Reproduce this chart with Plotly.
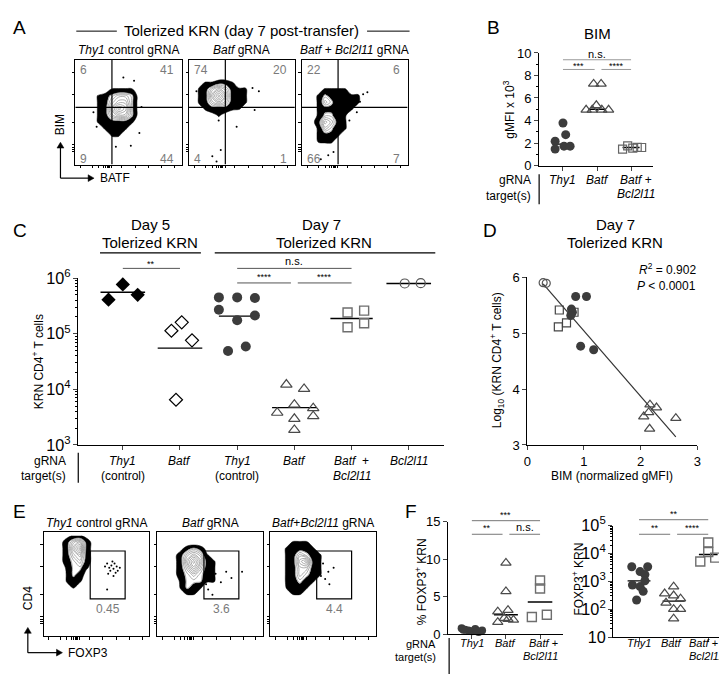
import numpy as np
import plotly.graph_objects as go

W, H = 727, 675
FONT = "Liberation Sans, Arial, sans-serif"

# ---------------- DATA ----------------
# Panel A: flow density grids (16x16, rows listed top -> bottom)
A1_grid = [
    "0000000000000000", "0000000000000000", "0000000000000000", "0000000000000000",
    "0000022220000000", "0012345541000000", "0012356641000000", "0012368741000000",
    "0012356641000000", "0012333321000000", "0001222210000000", "0000122100000000",
    "0000011000000000", "0000000000000000", "0000000000000000", "0000000000000000"]
A2_grid = [
    "0000000000000000", "0000000000000000", "0000000000000000", "0122332110000000",
    "0235653221000000", "0236863221000000", "0235653221000000", "0123332210000000",
    "0011211000000000", "0000100000000000", "0000000000000000", "0000000000000000",
    "0000000000000000", "0000000000000000", "0000000000000000", "0000000000000000"]
A3_grid = [
    "0000000000000000", "0000000000000000", "0000000000000000", "0000000000000000",
    "0012222110000000", "0124322221000000", "0125422221000000", "0123322210000000",
    "0124422100000000", "0136532100000000", "0125422100000000", "0123321000000000",
    "0022210000000000", "0001100000000000", "0000000000000000", "0000000000000000"]
A_dots = [
    [(0.45, 0.83), (0.55, 0.80), (0.17, 0.50), (0.20, 0.36), (0.60, 0.30), (0.52, 0.18), (0.38, 0.17), (0.62, 0.55)],
    [(0.66, 0.70), (0.60, 0.73), (0.28, 0.42), (0.45, 0.36), (0.30, 0.14), (0.22, 0.08), (0.26, 0.03), (0.62, 0.52), (0.07, 0.70)],
    [(0.58, 0.67), (0.62, 0.69), (0.55, 0.60), (0.52, 0.50), (0.45, 0.42), (0.30, 0.12), (0.18, 0.05), (0.25, 0.09), (0.40, 0.47)]]
A_quadrants = [["6", "41", "9", "44"], ["74", "20", "4", "1"], ["22", "6", "66", "7"]]
A_titles = ["<i>Thy1</i> control gRNA", "<i>Batf</i> gRNA", "<i>Batf</i> + <i>Bcl2l11</i> gRNA"]

# Panel E flow grids
E1_grid = [
    "0001221000000000", "0013563100000000", "0013683100000000", "0013563100000000",
    "0013453100000000", "0012442100000000", "0002431000000000", "0002321000000000",
    "0001210000000000", "0000000000000000", "0000000000000000", "0000000000000000",
    "0000000000000000", "0000000000000000", "0000000000000000", "0000000000000000"]
E2_grid = [
    "0000000000000000", "0000000000000000", "0001343100000000", "0013565210000000",
    "0013686321000000", "0013575321000000", "0013454321000000", "0012444221000000",
    "0002432110000000", "0001221000000000", "0000000000000000", "0000000000000000",
    "0000000000000000", "0000000000000000", "0000000000000000", "0000000000000000"]
E3_grid = [
    "0000000000000000", "0012221000000000", "0123332100000000", "0123543210000000",
    "0123673210000000", "0123553210000000", "0123543210000000", "0123432100000000",
    "0023321000000000", "0012210000000000", "0000000000000000", "0000000000000000",
    "0000000000000000", "0000000000000000", "0000000000000000", "0000000000000000"]
E_dots = [
    [(0.60, 0.70), (0.62, 0.66), (0.64, 0.68), (0.66, 0.65), (0.63, 0.63), (0.67, 0.70), (0.69, 0.67),
     (0.65, 0.72), (0.70, 0.63), (0.58, 0.67), (0.61, 0.60), (0.68, 0.61), (0.72, 0.66), (0.66, 0.58), (0.60, 0.45)],
    [(0.50, 0.55), (0.55, 0.60), (0.60, 0.52), (0.70, 0.56), (0.48, 0.45), (0.52, 0.40), (0.65, 0.62), (0.46, 0.50), (0.80, 0.62)],
    [(0.50, 0.70), (0.55, 0.62), (0.52, 0.55), (0.48, 0.58), (0.60, 0.66), (0.46, 0.66), (0.56, 0.50)]]
E_titles = ["<i>Thy1</i> control gRNA", "<i>Batf</i> gRNA", "<i>Batf</i>+<i>Bcl2l11</i> gRNA"]
E_gate_pct = ["0.45", "3.6", "4.4"]

# Panel B: BIM gMFI x 10^3
b_thy1 = [3.78, 2.74, 2.16, 1.47, 1.72, 1.72]
b_thy1_jit = [0.0, 0.08, -0.23, -0.23, 0.03, 0.21]
b_batf = [7.25, 7.25, 5.35, 4.95, 4.95, 4.95, 4.95]
b_batf_jit = [-0.1, 0.12, -0.02, -0.32, -0.14, 0.14, 0.34]
b_combo = [1.45, 1.75, 1.55, 1.62, 1.6]
b_combo_jit = [-0.25, -0.1, 0.05, 0.18, 0.31]
b_centers = [1.9, 5.0, 1.6]

# Panel C: KRN CD4+ T cells
c_day5_thy1 = [7.7e5, 4.1e5, 5.0e5]
c_day5_thy1_jit = [0.0, -0.25, 0.26]
c_day5_batf = [1.6e5, 1.13e5, 7.6e4, 6.5e3]
c_day5_batf_jit = [0.03, -0.15, 0.21, -0.07]
c_day7_thy1 = [4.5e5, 4.5e5, 4.4e5, 2.7e5, 2.12e5, 1.74e5, 4.9e4, 5.9e4]
c_day7_thy1_jit = [-0.32, 0.0, 0.31, -0.32, 0.31, 0.0, -0.16, 0.15]
c_day7_batf = [1.22e4, 1.02e4, 5.3e3, 4.6e3, 3.8e3, 3.3e3, 2.95e3, 1.87e3]
c_day7_batf_jit = [-0.14, 0.17, 0.0, 0.33, -0.30, 0.33, 0.0, 0.0]
c_day7_combo = [2.4e5, 2.6e5, 1.31e5, 1.54e5]
c_day7_combo_jit = [-0.07, 0.22, -0.07, 0.22]
c_day7_bcl = [8.0e5, 8.1e5]
c_day7_bcl_jit = [-0.07, 0.21]
c_centers = [5.55e5, 5.5e4, 2.07e5, 4.7e3, 1.88e5, 8.0e5]
c_row1 = ["<i>Thy1</i>", "<i>Batf</i>", "<i>Thy1</i>", "<i>Batf</i>", "<i>Batf</i>  +", "<i>Bcl2l11</i>"]
c_row2 = ["(control)", "", "(control)", "", "<i>Bcl2l11</i>", ""]

# Panel D: BIM (normalized gMFI) vs log10 cells
d_bcl_x = [0.28, 0.335]
d_bcl_y = [5.90, 5.89]
d_thy1_x = [0.854, 1.044, 0.779, 0.796, 0.767, 0.941, 1.171]
d_thy1_y = [5.654, 5.654, 5.429, 5.372, 5.314, 4.766, 4.702]
d_combo_x = [0.565, 0.825, 0.692, 0.548]
d_combo_y = [5.412, 5.372, 5.181, 5.112]
d_batf_x = [2.164, 2.279, 2.141, 2.054, 2.62, 2.158]
d_batf_y = [3.721, 3.669, 3.583, 3.508, 3.479, 3.289]

# Panel F left: % FOXP3+ KRN
fl_thy1 = [0.8, 0.6, 0.5, 0.4, 0.7, 0.3, 0.5, 0.6, 0.4]
fl_thy1_jit = [-0.3, -0.2, -0.1, 0.0, 0.1, 0.2, 0.3, -0.25, 0.15]
fl_batf = [9.5, 5.7, 3.0, 3.2, 1.6, 2.15, 2.0, 1.9]
fl_batf_jit = [0.0, 0.0, -0.24, 0.06, -0.24, -0.05, 0.06, 0.22]
fl_combo = [7.15, 6.1, 2.3, 2.6]
fl_combo_jit = [0.0, 0.0, -0.24, 0.2]
fl_centers = [0.5, 2.6, 4.3]

# Panel F right: FOXP3+ KRN counts
fr_thy1 = [3340, 3340, 2240, 1740, 741, 646, 1047, 437, 214]
fr_thy1_jit = [-0.21, 0.25, 0.03, 0.17, -0.19, 0.03, 0.17, 0.12, -0.07]
fr_batf = [646, 363, 309, 240, 170, 100, 100, 46]
fr_batf_jit = [0.0, -0.26, 0.0, 0.2, -0.22, 0.0, 0.2, 0.0]
fr_combo = [24500, 11200, 5130, 7080]
fr_combo_jit = [0.0, 0.0, -0.23, 0.2]
fr_centers = [1040, 195, 9100]
f_row1 = ["<i>Thy1</i>", "<i>Batf</i>", "<i>Batf</i> +"]
f_row2 = ["", "", "<i>Bcl2l11</i>"]

# ---------------- HELPERS ----------------
def PX(x):
    return x / W


def PY(y):
    return 1 - y / H


fig = go.Figure()
annotations = []
shapes = []
layout = dict(width=W, height=H, margin=dict(l=0, r=0, t=0, b=0), paper_bgcolor="white",
              plot_bgcolor="white", showlegend=False, font=dict(family=FONT, size=12, color="black"))


def axname(i):
    return ("xaxis", "yaxis") if i == 1 else (f"xaxis{i}", f"yaxis{i}")


def axref(i):
    return ("x", "y") if i == 1 else (f"x{i}", f"y{i}")


def txt(t, x, y, size=12, color="black", xanchor="center", angle=0, xref="paper", yanchor="middle"):
    xx = PX(x) if xref == "paper" else x
    annotations.append(dict(text=t, x=xx, y=PY(y), xref=xref, yref="paper", showarrow=False,
                            font=dict(family=FONT, size=size, color=color), xanchor=xanchor,
                            yanchor=yanchor, textangle=angle))


def pline(x0, y0, x1, y1, color="black", width=1.0):
    shapes.append(dict(type="line", xref="paper", yref="paper", x0=PX(x0), y0=PY(y0), x1=PX(x1), y1=PY(y1),
                       line=dict(color=color, width=width)))


def arrow_up(x, ytail, yhead):
    pline(x, ytail, x, yhead + 4, width=1.2)
    path = f"M {PX(x-3.5)},{PY(yhead+6)} L {PX(x)},{PY(yhead)} L {PX(x+3.5)},{PY(yhead+6)} Z"
    shapes.append(dict(type="path", xref="paper", yref="paper", path=path, fillcolor="black",
                       line=dict(color="black", width=0.5)))


def arrow_right(xtail, xhead, y):
    pline(xtail, y, xhead - 4, y, width=1.2)
    path = f"M {PX(xhead-6)},{PY(y-3.5)} L {PX(xhead)},{PY(y)} L {PX(xhead-6)},{PY(y+3.5)} Z"
    shapes.append(dict(type="path", xref="paper", yref="paper", path=path, fillcolor="black",
                       line=dict(color="black", width=0.5)))


def flow_axes(i, x0, x1, ytop, ybot):
    xn, yn = axname(i)
    xr, yr = axref(i)
    common = dict(range=[0, 1], showline=True, mirror=True, linecolor="black", linewidth=1,
                  ticks="outside", ticklen=2.5, tickwidth=1, tickcolor="black", showticklabels=False,
                  showgrid=False, zeroline=False, fixedrange=True)
    layout[xn] = dict(domain=[PX(x0), PX(x1)], anchor=yr,
                      tickvals=[0.05, 0.16, 0.22, 0.26, 0.28, 0.30, 0.31, 0.32, 0.34, 0.43, 0.56, 0.69, 0.81, 0.93], **common)
    layout[yn] = dict(domain=[PY(ybot), PY(ytop)], anchor=xr,
                      tickvals=[0.12, 0.14, 0.16, 0.19, 0.40, 0.67, 0.88], **common)


def flow(i, grid, dots):
    xr, yr = axref(i)
    n = len(grid)
    z = [[int(c) for c in row] for row in reversed(grid)]
    xs = [(j + 0.5) / n for j in range(len(grid[0]))]
    ys = [(k + 0.5) / n for k in range(n)]
    # constraint contours shade the region that violates the kept condition
    fig.add_trace(go.Contour(x=xs, y=ys, z=z, xaxis=xr, yaxis=yr, showscale=False, hoverinfo="skip",
                             contours=dict(type="constraint", operation="<", value=1.8),
                             fillcolor="black", line=dict(color="black", width=0.5, smoothing=1.1)))
    fig.add_trace(go.Contour(x=xs, y=ys, z=z, xaxis=xr, yaxis=yr, showscale=False, hoverinfo="skip",
                             contours=dict(type="constraint", operation="<", value=3.6),
                             fillcolor="white", line=dict(color="white", width=0.1, smoothing=1.1)))
    fig.add_trace(go.Contour(x=xs, y=ys, z=z, xaxis=xr, yaxis=yr, showscale=False, hoverinfo="skip",
                             autocontour=False,
                             contours=dict(coloring="none", start=3.7, end=9, size=0.5),
                             line=dict(color="#8a8a8a", width=0.7, smoothing=1.1)))
    fig.add_trace(go.Scatter(x=[d[0] for d in dots], y=[d[1] for d in dots], xaxis=xr, yaxis=yr,
                             mode="markers", marker=dict(color="black", size=2), hoverinfo="skip"))


def mk(symbol, color, size, lw=1.2):
    if symbol.endswith("-open"):
        return dict(symbol=symbol, size=size, color=color, line=dict(color=color, width=lw))
    return dict(symbol=symbol, size=size, color=color, line=dict(width=0))


def dots(i, cat, vals, jit, symbol, color, size, lw=1.2):
    xr, yr = axref(i)
    fig.add_trace(go.Scatter(x=[cat + j for j in jit], y=vals, xaxis=xr, yaxis=yr, mode="markers",
                             marker=mk(symbol, color, size, lw), hoverinfo="skip", cliponaxis=False))


def centers(i, vals, hws):
    xr, yr = axref(i)
    xx, yy = [], []
    for k, (v, hw) in enumerate(zip(vals, hws)):
        xx += [k + 1 - hw, k + 1 + hw, None]
        yy += [v, v, None]
    fig.add_trace(go.Scatter(x=xx, y=yy, xaxis=xr, yaxis=yr, mode="lines",
                             line=dict(color="black", width=1.4), hoverinfo="skip"))


def sig(i, c0, c1, ybar, label, ylab, size, color="#777777"):
    xr, _ = axref(i)
    shapes.append(dict(type="line", xref=xr, yref="paper", x0=c0, x1=c1, y0=PY(ybar), y1=PY(ybar),
                       line=dict(color=color, width=1)))
    txt(label, (c0 + c1) / 2, ylab, size=size, xref=xr)


# ---------------- PANEL A ----------------
txt("A", 8, 9, size=19)
txt("Tolerized KRN (day 7 post-transfer)", 232, 12, size=15)
pline(65, 12.5, 106, 12.5)
pline(359, 12.5, 402, 12.5)
A_boxes = [(64, 172), (179, 286), (293, 400)]
A_grids = [A1_grid, A2_grid, A3_grid]
for k in range(3):
    i = k + 1
    x0, x1 = A_boxes[k]
    flow_axes(i, x0, x1, 42, 150)
    flow(i, A_grids[k], A_dots[k])
    xr, yr = axref(i)
    shapes.append(dict(type="line", xref=xr, yref=yr, x0=0.343, x1=0.343, y0=0, y1=1,
                       line=dict(color="black", width=1.2)))
    shapes.append(dict(type="line", xref=xr, yref=yr, x0=0, x1=1, y0=0.546, y1=0.546,
                       line=dict(color="black", width=1.2)))
    txt(A_titles[k], (x0 + x1) / 2, 32, size=12)
    q = A_quadrants[k]
    txt(q[0], x0 + 3, 53, size=12, color="#7a7a7a", xanchor="left")
    txt(q[1], x1 - 6, 53, size=12, color="#7a7a7a", xanchor="right")
    txt(q[2], x0 + 3, 144, size=12, color="#7a7a7a", xanchor="left")
    txt(q[3], x1 - 6, 144, size=12, color="#7a7a7a", xanchor="right")
txt("BIM", 48, 109, size=12, angle=-90)
arrow_up(49, 164, 127)
arrow_right(49, 83, 164)
txt("BATF", 87, 164, size=12, xanchor="left")

# ---------------- PANEL B ----------------
txt("B", 487, 9, size=19)
txt("BIM", 592, 15, size=15)
layout["xaxis4"] = dict(domain=[PX(533), PX(648)], range=[0.3, 3.64], anchor="y4", showline=True,
                        linecolor="black", linewidth=1, ticks="outside", ticklen=4, tickvals=[1, 2, 3],
                        showticklabels=False, showgrid=False, zeroline=False)
layout["yaxis4"] = dict(domain=[PY(151), PY(35)], range=[0, 10], anchor="x4", showline=True,
                        linecolor="black", linewidth=1, ticks="outside", ticklen=4, tickvals=[0, 2, 4, 6, 8, 10],
                        tickfont=dict(size=13), showgrid=False, zeroline=False,
                        minor=dict(ticks="outside", ticklen=2.5, tickvals=[1, 3, 5, 7, 9], tickcolor="black"))
centers(4, b_centers, [0.2, 0.25, 0.25])
dots(4, 1, b_thy1, b_thy1_jit, "circle", "#3c3c3c", 9)
dots(4, 2, b_batf, b_batf_jit, "triangle-up-open", "#4a4a4a", 9)
dots(4, 3, b_combo, b_combo_jit, "square-open", "#666666", 8)
sig(4, 1, 3, 42, "n.s.", 36, 11, color="#999999")
sig(4, 1, 1.93, 52, "***", 48, 9, color="#999999")
sig(4, 2.13, 3, 52, "****", 48, 9, color="#999999")
txt("gMFI x 10<sup>3</sup>", 503, 93, size=12, angle=-90)
txt("gRNA", 527, 166, size=12, xanchor="right")
txt("target(s)", 527, 182, size=12, xanchor="right")
pline(533, 160, 533, 191, width=1.2)
txt("<i>Thy1</i>", 1, 166, size=12, xref="x4")
txt("<i>Batf</i>", 2, 166, size=12, xref="x4")
txt("<i>Batf</i> +", 3.15, 166, size=12, xref="x4")
txt("<i>Bcl2l11</i>", 3.15, 180, size=12, xref="x4")

# ---------------- PANEL C ----------------
txt("C", 8, 218, size=19)
txt("Day 5", 140, 212, size=15)
txt("Tolerized KRN", 140, 230, size=15)
txt("Day 7", 313, 212, size=15)
txt("Tolerized KRN", 315, 230, size=15)
pline(89, 241, 191, 241, width=1.2)
pline(205, 241, 428, 241, width=1.2)
layout["xaxis5"] = dict(domain=[PX(67), PX(437)], range=[0.221, 6.62], anchor="y5", showline=True,
                        linecolor="black", linewidth=1, ticks="outside", ticklen=4, tickvals=[1, 2, 3, 4, 5, 6],
                        showticklabels=False, showgrid=False, zeroline=False)
layout["yaxis5"] = dict(domain=[PY(439), PY(267)], type="log", range=[3, 6], anchor="x5", showline=True,
                        linecolor="black", linewidth=1, ticks="outside", ticklen=4, dtick=1,
                        exponentformat="power", tickfont=dict(size=13), showgrid=False, zeroline=False,
                        minor=dict(ticks="outside", ticklen=2, dtick="D1", tickcolor="black"))
centers(5, c_centers, [0.39, 0.39, 0.32, 0.39, 0.37, 0.39])
dots(5, 1, c_day5_thy1, c_day5_thy1_jit, "diamond", "black", 11)
dots(5, 2, c_day5_batf, c_day5_batf_jit, "diamond-open", "black", 10)
dots(5, 3, c_day7_thy1, c_day7_thy1_jit, "circle", "#3c3c3c", 10)
dots(5, 4, c_day7_batf, c_day7_batf_jit, "triangle-up-open", "#4a4a4a", 10)
dots(5, 5, c_day7_combo, c_day7_combo_jit, "square-open", "#6e6e6e", 9, lw=1.4)
dots(5, 6, c_day7_bcl, c_day7_bcl_jit, "circle-open", "#555555", 9)
sig(5, 1, 2, 257, "**", 252, 9, color="#555555")
sig(5, 3, 5, 257, "n.s.", 249, 11, color="#555555")
sig(5, 3, 3.94, 272, "****", 266, 9, color="#555555")
sig(5, 4.06, 5, 272, "****", 266, 9, color="#555555")
txt("KRN CD4<sup>+</sup> T cells", 26, 353, size=12, angle=-90)
txt("gRNA", 57, 456, size=12, xanchor="right")
txt("target(s)", 57, 471, size=12, xanchor="right")
pline(67, 447, 67, 478, width=1.2)
for k in range(6):
    txt(c_row1[k], k + 1, 456, size=12, xref="x5")
    if c_row2[k]:
        txt(c_row2[k], k + 1, 471, size=12, xref="x5")

# ---------------- PANEL D ----------------
txt("D", 483, 218, size=19)
txt("Day 7", 610, 212, size=15)
txt("Tolerized KRN", 610, 230, size=15)
layout["xaxis6"] = dict(domain=[PX(521), PX(693)], range=[0, 3], anchor="y6", showline=True,
                        linecolor="black", linewidth=1, ticks="outside", ticklen=4, tickvals=[0, 1, 2, 3],
                        tickfont=dict(size=13), showgrid=False, zeroline=False)
layout["yaxis6"] = dict(domain=[PY(439), PY(266)], range=[3, 6], anchor="x6", showline=True,
                        linecolor="black", linewidth=1, ticks="outside", ticklen=4, tickvals=[3, 4, 5, 6],
                        tickfont=dict(size=13), showgrid=False, zeroline=False)
all_x = np.array(d_bcl_x + d_thy1_x + d_combo_x + d_batf_x)
all_y = np.array(d_bcl_y + d_thy1_y + d_combo_y + d_batf_y)
slope, icpt = np.polyfit(all_x, all_y, 1)
fx = np.array([all_x.min(), all_x.max()])
fig.add_trace(go.Scatter(x=fx, y=slope * fx + icpt, xaxis="x6", yaxis="y6", mode="lines",
                         line=dict(color="#333333", width=1.2), hoverinfo="skip"))
for xs_, ys_, sym, col, sz in [
        (d_bcl_x, d_bcl_y, "circle-open", "#555555", 8),
        (d_combo_x, d_combo_y, "square-open", "#444444", 8),
        (d_thy1_x, d_thy1_y, "circle", "#3c3c3c", 9),
        (d_batf_x, d_batf_y, "triangle-up-open", "#4a4a4a", 9)]:
    fig.add_trace(go.Scatter(x=xs_, y=ys_, xaxis="x6", yaxis="y6", mode="markers", marker=mk(sym, col, sz),
                             hoverinfo="skip", cliponaxis=False))
txt("<i>R</i><sup>2</sup> = 0.902", 694, 258, size=12, xanchor="right")
txt("<i>P</i> &lt; 0.0001", 694, 275, size=12, xanchor="right")
txt("Log<sub>10</sub> (KRN CD4<sup>+</sup> T cells)", 490, 352, size=12, angle=-90)
txt("BIM (normalized gMFI)", 607, 471, size=12)

# ---------------- PANEL E ----------------
txt("E", 8, 508, size=19)
E_boxes = [(32, 139), (147, 254), (261, 368)]
E_grids = [E1_grid, E2_grid, E3_grid]
for k in range(3):
    i = k + 7
    x0, x1 = E_boxes[k]
    flow_axes(i, x0, x1, 529, 636)
    flow(i, E_grids[k], E_dots[k])
    xr, yr = axref(i)
    shapes.append(dict(type="rect", xref=xr, yref=yr, x0=0.44, x1=0.77, y0=0.36, y1=0.82,
                       line=dict(color="black", width=1.2)))
    txt(E_titles[k], (x0 + x1) / 2, 519, size=12)
    txt(E_gate_pct[k], x0 + 0.605 * (x1 - x0), 608, size=12, color="#7a7a7a")
txt("CD4", 16, 597, size=12, angle=-90)
arrow_up(16, 653, 627)
arrow_right(16, 51, 653)
txt("FOXP3", 55, 653, size=12, xanchor="left")

# ---------------- PANEL F ----------------
txt("F", 403, 508, size=19)
layout["xaxis10"] = dict(domain=[PX(441), PX(557)], range=[0.304, 3.67], anchor="y10", showline=True,
                         linecolor="black", linewidth=1, ticks="outside", ticklen=4, tickvals=[1, 2, 3],
                         showticklabels=False, showgrid=False, zeroline=False)
layout["yaxis10"] = dict(domain=[PY(634), PY(518)], range=[0, 15], anchor="x10", showline=True,
                         linecolor="black", linewidth=1, ticks="outside", ticklen=4, tickvals=[0, 5, 10, 15],
                         tickfont=dict(size=13), showgrid=False, zeroline=False)
centers(10, fl_centers, [0.3, 0.35, 0.36])
dots(10, 1, fl_thy1, fl_thy1_jit, "circle", "#3c3c3c", 8)
dots(10, 2, fl_batf, fl_batf_jit, "triangle-up-open", "#4a4a4a", 9)
dots(10, 3, fl_combo, fl_combo_jit, "square-open", "#6e6e6e", 9, lw=1.4)
sig(10, 1, 3, 517, "***", 511, 9)
sig(10, 1, 1.9, 531, "**", 525, 9)
sig(10, 2.1, 3, 531, "n.s.", 524, 11)
txt("% FOXP3<sup>+</sup> KRN", 413, 580, size=12, angle=-90)
txt("gRNA", 431, 644, size=11, xanchor="right")
txt("target(s)", 431, 657, size=11, xanchor="right")
pline(442, 638, 442, 675, width=1.2)

layout["xaxis11"] = dict(domain=[PX(608), PX(725)], range=[0.257, 3.6], anchor="y11", showline=True,
                         linecolor="black", linewidth=1, ticks="outside", ticklen=4, tickvals=[1, 2, 3],
                         showticklabels=False, showgrid=False, zeroline=False)
layout["yaxis11"] = dict(domain=[PY(637), PY(522)], type="log", range=[1, 5], anchor="x11", showline=True,
                         linecolor="black", linewidth=1, ticks="outside", ticklen=4, dtick=1,
                         exponentformat="power", tickfont=dict(size=13), showgrid=False, zeroline=False,
                         minor=dict(ticks="outside", ticklen=2, dtick="D1", tickcolor="black"))
centers(11, fr_centers, [0.33, 0.32, 0.27])
dots(11, 1, fr_thy1, fr_thy1_jit, "circle", "#3c3c3c", 9)
dots(11, 2, fr_batf, fr_batf_jit, "triangle-up-open", "#4a4a4a", 9)
dots(11, 3, fr_combo, fr_combo_jit, "square-open", "#6e6e6e", 9, lw=1.4)
sig(11, 1, 3, 516, "**", 510, 9)
sig(11, 1, 1.9, 531, "**", 525, 9)
sig(11, 2.1, 3, 531, "****", 525, 9)
txt("FOXP3<sup>+</sup> KRN", 572, 577, size=12, angle=-90)
f_left_off = [0.0, 0.0, 0.1]
f_right_off = [0.0, -0.06, -0.15]
for k in range(3):
    txt(f_row1[k], k + 1 + f_left_off[k], 643, size=11, xref="x10")
    txt(f_row1[k], k + 1 + f_right_off[k], 643, size=11, xref="x11")
    if f_row2[k]:
        txt(f_row2[k], k + 1, 656, size=11, xref="x10")
        txt(f_row2[k], k + 1 - 0.06, 656, size=11, xref="x11")

layout["annotations"] = annotations
layout["shapes"] = shapes
fig.update_layout(**layout)
fig.write_html("out.html")
